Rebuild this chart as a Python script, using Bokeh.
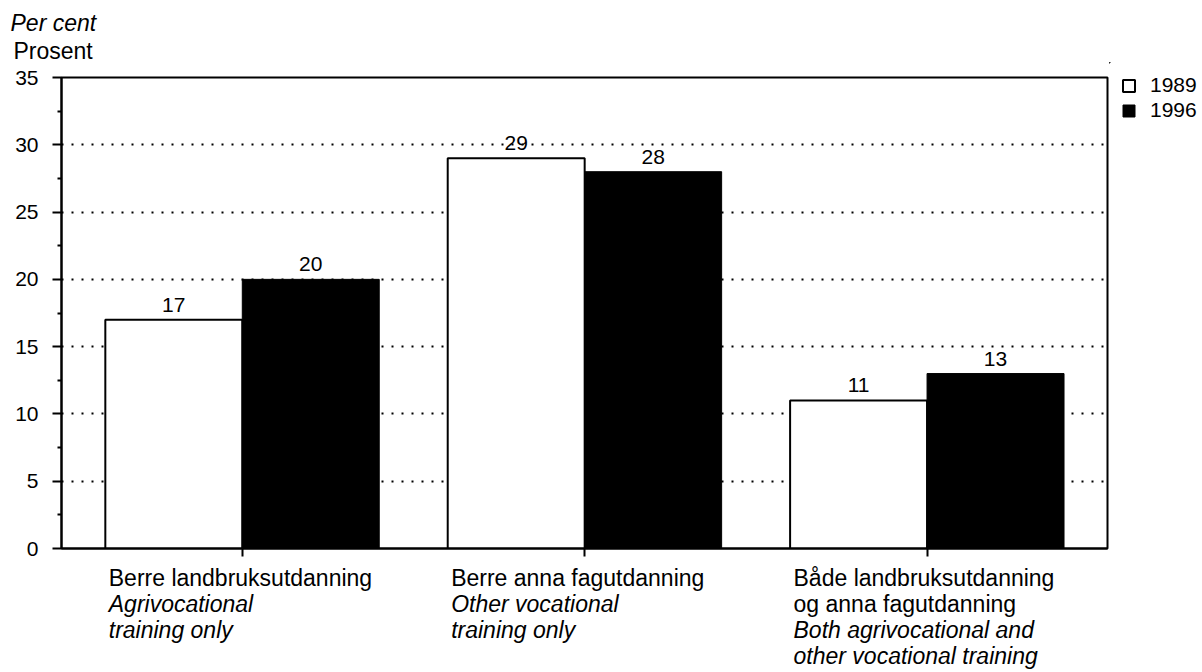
from bokeh.plotting import figure
from bokeh.layouts import column, row
from bokeh.models import Range1d, FixedTicker, Legend, LegendItem, ColumnDataSource
from bokeh.transform import dodge
from bokeh.embed import file_html
from bokeh.resources import INLINE
from bokeh.core.properties import value

# ---- data ----
years = ["1989", "1996"]
v1989 = [17, 29, 11]
v1996 = [20, 28, 13]
cat_no = [["Berre landbruksutdanning"],
          ["Berre anna fagutdanning"],
          ["Både landbruksutdanning", "og anna fagutdanning"]]
cat_en = [["Agrivocational", "training only"],
          ["Other vocational", "training only"],
          ["Both agrivocational and", "other vocational training"]]
yticks = [0, 5, 10, 15, 20, 25, 30, 35]
yminor = [2.5, 7.5, 12.5, 17.5, 22.5, 27.5, 32.5]
ylabel_no = "Prosent"
ylabel_en = "Per cent"

# ---- layout (page pixels) ----
FONT = "Liberation Sans"
W = 1202
FL, FR, FT, FB = 61, 1107, 77, 548
H_TOP = 62
H_MAIN = 558 - H_TOP
H_BOT = 672 - H_TOP - H_MAIN
W_MAIN = FR + 2
W_LEG = W - W_MAIN
X0, X1 = -0.528, 2.527
Y0, Y1 = 0, 35
PX_PER_Y = (FB - FT) / (Y1 - Y0)

common = dict(output_backend="svg", toolbar_location=None, title=None)


def no_align(f):
    if "frame_align" in f.properties():
        f.frame_align = False


def bare(f):
    f.grid.visible = False
    f.outline_line_color = None
    f.background_fill_alpha = 0
    f.border_fill_alpha = 0


# ---- top strip: axis titles ----
p0 = figure(width=W, height=H_TOP, x_range=Range1d(0, W), y_range=Range1d(H_TOP, 0),
            x_axis_location=None, y_axis_location=None, min_border=0,
            min_border_left=0, min_border_right=0, min_border_top=0, min_border_bottom=0,
            **common)
bare(p0)
no_align(p0)
p0.text(x=[10], y=[22], text=[ylabel_en], text_font=value(FONT), text_font_size="23px",
        text_font_style="italic", text_baseline="middle", text_align="left", text_color="black")
p0.text(x=[13], y=[50], text=[ylabel_no], text_font=value(FONT), text_font_size="23px",
        text_baseline="middle", text_align="left", text_color="black")

# ---- main chart ----
p = figure(width=W_MAIN, height=H_MAIN, x_range=Range1d(X0, X1), y_range=Range1d(Y0, Y1),
           min_border=0, min_border_left=FL, min_border_right=W_MAIN - FR,
           min_border_top=FT - H_TOP, min_border_bottom=H_TOP + H_MAIN - FB,
           **common)
p.outline_line_color = "black"
p.outline_line_width = 2

src = ColumnDataSource(dict(x=list(range(len(v1989))), v89=v1989, v96=v1996,
                            t89=[str(v) for v in v1989], t96=[str(v) for v in v1996]))

bar_style = {"89": dict(fill_color="white", line_color="black", line_width=2),
             "96": dict(fill_color="black", line_color="black", line_width=1)}

r89 = p.vbar(x=dodge('x', -0.2, range=p.x_range), top='v89', width=0.4, bottom=0,
             source=src, **bar_style["89"])
r96 = p.vbar(x=dodge('x', 0.2, range=p.x_range), top='v96', width=0.4, bottom=0,
             source=src, **bar_style["96"])

for col, off in (("89", -0.2), ("96", 0.2)):
    p.text(x=dodge('x', off, range=p.x_range), y=dodge('v' + col, 15 / PX_PER_Y),
           text='t' + col, source=src,
           text_align="center", text_baseline="middle",
           text_font=value(FONT), text_font_size="21px", text_color="black")

p.xgrid.visible = False
p.ygrid.ticker = FixedTicker(ticks=[5, 10, 15, 20, 25, 30])
p.ygrid.grid_line_color = "black"
p.ygrid.grid_line_dash = "2 8"
p.ygrid.grid_line_width = 2

ya = p.yaxis[0]
ya.ticker = FixedTicker(ticks=yticks, minor_ticks=yminor)
ya.axis_line_width = 2
ya.major_tick_line_width = 2
ya.major_tick_out = 9
ya.major_tick_in = 0
ya.minor_tick_out = 4
ya.minor_tick_in = 0
ya.minor_tick_line_width = 2
ya.major_label_standoff = 14
ya.major_label_text_font = FONT
ya.major_label_text_font_size = "21px"
ya.major_label_text_color = "black"

xa = p.xaxis[0]
xa.ticker = FixedTicker(ticks=list(range(len(v1989))))
xa.axis_line_width = 2
xa.major_tick_line_width = 2
xa.major_tick_out = 8
xa.major_tick_in = 0
xa.minor_tick_line_color = None
xa.major_label_standoff = 0
xa.major_label_text_font_size = "1px"
xa.major_label_text_color = None

# ---- legend strip (its bar renderers fall outside its visible ranges) ----
pl = figure(width=W_LEG, height=H_MAIN, x_range=Range1d(1000, 1000 + W_LEG),
            y_range=Range1d(-H_MAIN - 1000, -1000),
            x_axis_location=None, y_axis_location=None, min_border=0,
            min_border_left=0, min_border_right=0, min_border_top=0, min_border_bottom=0,
            **common)
bare(pl)
no_align(pl)
l89 = pl.vbar(x='x', top='v89', width=0.4, bottom=0, source=src, **bar_style["89"])
l96 = pl.vbar(x='x', top='v96', width=0.4, bottom=0, source=src, **bar_style["96"])
legend = Legend(items=[LegendItem(label=years[0], renderers=[l89]),
                       LegendItem(label=years[1], renderers=[l96])],
                location=(12, H_MAIN - 60), padding=0, margin=0, spacing=1,
                glyph_width=15, glyph_height=15, label_height=15, label_standoff=14,
                label_text_font=FONT, label_text_font_size="21px", label_text_color="black",
                border_line_color=None, background_fill_alpha=0)
pl.add_layout(legend)

# ---- bottom strip: category labels ----
p2 = figure(width=W, height=H_BOT, x_range=p.x_range, y_range=Range1d(H_BOT, 0),
            x_axis_location=None, y_axis_location=None, min_border=0,
            min_border_left=FL, min_border_right=W - FR, min_border_top=0, min_border_bottom=0,
            **common)
bare(p2)
top2 = H_TOP + H_MAIN
for i in range(len(cat_no)):
    lines = [(t, "normal") for t in cat_no[i]] + [(t, "italic") for t in cat_en[i]]
    for k, (t, st) in enumerate(lines):
        p2.text(x=[i - 0.39], y=[577 + k * 26.3 - top2], text=[t], text_font=value(FONT),
                text_font_size="23px", text_font_style=st, text_color="black",
                text_baseline="middle", text_align="left")

layout = column(p0, row(p, pl, spacing=0), p2, spacing=0)
open("out.html", "w").write(file_html(layout, INLINE))
